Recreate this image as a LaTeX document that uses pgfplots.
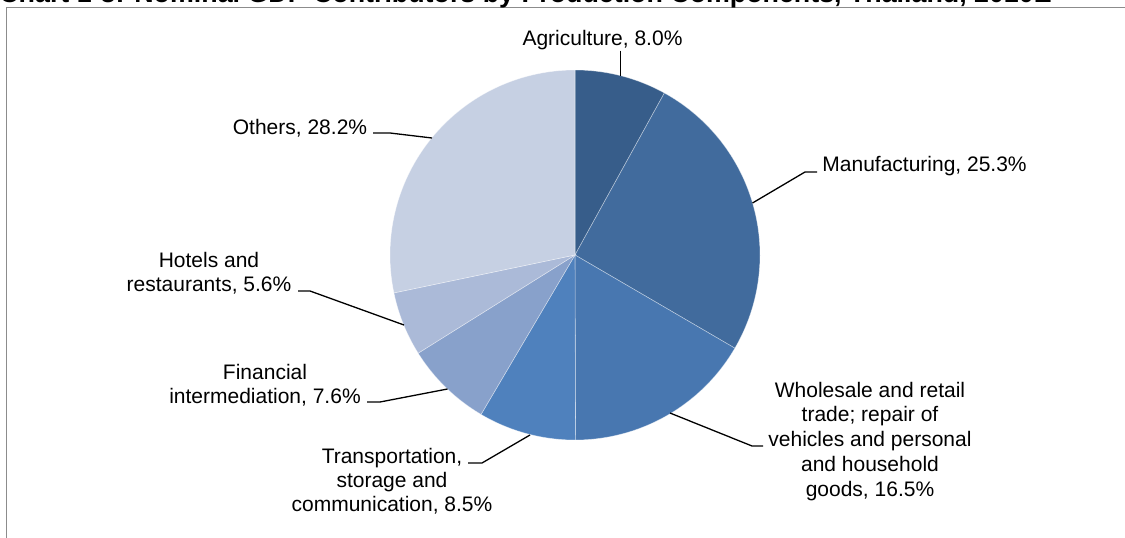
\documentclass[border=0pt]{standalone}
\usepackage{pgfplots}
\usepackage{pgfplotstable}
\pgfplotsset{compat=1.18}
\usepackage{fontspec}
\setmainfont{Liberation Sans}

\definecolor{s0}{HTML}{375D8A}
\definecolor{s1}{HTML}{416B9D}
\definecolor{s2}{HTML}{4877B0}
\definecolor{s3}{HTML}{4F81BD}
\definecolor{s4}{HTML}{88A1CB}
\definecolor{s5}{HTML}{ABBAD8}
\definecolor{s6}{HTML}{C6D0E3}
\definecolor{framegray}{HTML}{8C8C8C}

\tikzset{
  lbl/.style={anchor=base, font=\fontsize{10.5}{12.4}\selectfont, inner sep=0pt},
  ldr/.style={black, line width=0.65pt},
}

\pgfplotstableread{
sector value
Agriculture 8.0
Manufacturing 25.3
Wholesale 16.5
Transportation 8.5
Financial 7.6
Hotels 5.6
Others 28.2
}\piedata

\begin{document}
\begin{tikzpicture}
\gdef\cum{0}
\gdef\tot{0}
\foreach \i in {0,...,6}{
  \pgfplotstablegetelem{\i}{value}\of\piedata
  \pgfmathsetmacro\myT{\tot+\pgfplotsretval}
  \xdef\tot{\myT}
}
\foreach \i in {0,...,6}{
  \pgfplotstablegetelem{\i}{value}\of\piedata
  \pgfmathsetmacro\myA{90-(\cum/\tot)*360}
  \pgfmathsetmacro\myC{\cum+\pgfplotsretval}
  \xdef\cum{\myC}
  \pgfmathsetmacro\myB{90-(\cum/\tot)*360}
  \expandafter\xdef\csname angA\i\endcsname{\myA}
  \expandafter\xdef\csname angB\i\endcsname{\myB}
}
\begin{axis}[
  hide axis, scale only axis,
  width=562.5pt, height=268.5pt,
  xmin=0, xmax=1125, ymin=-537, ymax=0,
  clip=false, at={(0,0)}, anchor=south west,
]
\pgfplotsinvokeforeach{0,...,6}{
  \addplot[fill=s#1, draw=white, draw opacity=0.45, line width=0.3pt,
    domain={\csname angB#1\endcsname}:{\csname angA#1\endcsname}, samples=80]
    ({575+185*cos(x)},{-255+185*sin(x)}) -- (axis cs:575,-255) -- cycle;
}
% frame
\draw[framegray, line width=0.75pt] (axis cs:6.5,-560) -- (axis cs:6.5,-7.5) -- (axis cs:1140,-7.5);
% title (cut off at top, as in the source)
\node[anchor=base west, inner sep=0pt, font=\bfseries\fontsize{13.4}{16}\selectfont] at (axis cs:-1,-3)
  {Chart 1-3: Nominal GDP Contributors by Production Components, Thailand, 2010E};
% Agriculture
\node[lbl] at (axis cs:602.5,-45) {Agriculture, 8.0\%};
\draw[ldr] (axis cs:620.7,-50.7) -- (axis cs:620.7,-76);
% Manufacturing
\node[lbl, anchor=base west] at (axis cs:822,-171.5) {Manufacturing, 25.3\%};
\draw[ldr] (axis cs:752.5,-203) -- (axis cs:805,-172) -- (axis cs:817,-172);
% Wholesale
\node[lbl] at (axis cs:870,-397) {Wholesale and retail};
\node[lbl] at (axis cs:870,-421) {trade; repair of};
\node[lbl] at (axis cs:870,-446) {vehicles and personal};
\node[lbl] at (axis cs:870,-471) {and household};
\node[lbl] at (axis cs:870,-496) {goods, 16.5\%};
\draw[ldr] (axis cs:670,-413) -- (axis cs:752,-446) -- (axis cs:763,-446);
% Transportation
\node[lbl] at (axis cs:392,-463) {Transportation,};
\node[lbl] at (axis cs:392,-487) {storage and};
\node[lbl] at (axis cs:392,-511) {communication, 8.5\%};
\draw[ldr] (axis cs:530,-435) -- (axis cs:482,-463) -- (axis cs:468,-463);
% Financial
\node[lbl] at (axis cs:265,-379) {Financial};
\node[lbl] at (axis cs:265,-403) {intermediation, 7.6\%};
\draw[ldr] (axis cs:447.5,-389) -- (axis cs:380,-402) -- (axis cs:367,-402);
% Hotels
\node[lbl] at (axis cs:209,-267) {Hotels and};
\node[lbl] at (axis cs:209,-291) {restaurants, 5.6\%};
\draw[ldr] (axis cs:404,-325) -- (axis cs:310,-291) -- (axis cs:298,-291);
% Others
\node[lbl] at (axis cs:300,-134) {Others, 28.2\%};
\draw[ldr] (axis cs:432,-138) -- (axis cs:390,-133) -- (axis cs:373,-133);
\end{axis}
\pgfresetboundingbox
\useasboundingbox (0,0) rectangle (562.5pt,268.5pt);
\end{tikzpicture}
\end{document}
